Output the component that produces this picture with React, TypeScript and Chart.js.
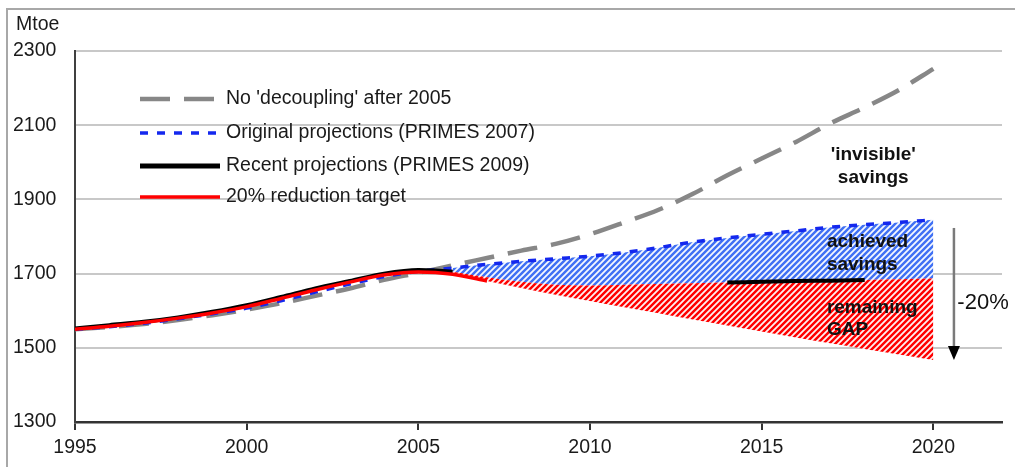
import React, { useEffect, useRef } from 'react';
import { Chart, registerables } from 'chart.js';

Chart.register(...registerables);

// ---- data ----
const years = [1995, 1996, 1997, 1998, 1999, 2000, 2001, 2002, 2003, 2004, 2005, 2006, 2007, 2008, 2009, 2010, 2011, 2012, 2013, 2014, 2015, 2016, 2017, 2018, 2019, 2020];
const noDecoupling = [1550, 1556, 1564, 1575, 1588, 1603, 1620, 1640, 1660, 1683, 1702, 1722, 1742, 1762, 1780, 1806, 1838, 1872, 1915, 1965, 2010, 2055, 2105, 2148, 2195, 2252];
const primes2007 = [1550, 1557, 1566, 1578, 1592, 1607, 1627, 1650, 1672, 1692, 1706, 1715, 1725, 1733, 1740, 1747, 1757, 1770, 1785, 1796, 1806, 1815, 1825, 1832, 1838, 1845];
const primes2009 = [1552, 1561, 1570, 1582, 1597, 1615, 1637, 1660, 1680, 1700, 1710, 1705, 1690, 1678, 1670, 1668, 1670, 1672, 1674, 1676, 1678, 1680, 1681, 1683, 1685, 1687];
const target20 = [1550, 1558, 1568, 1580, 1594, 1611, 1633, 1656, 1677, 1696, 1704, 1698, 1680, 1661, 1643, 1626, 1609, 1593, 1576, 1560, 1544, 1528, 1512, 1497, 1482, 1467];
const seriesLabels = ["No 'decoupling' after 2005", 'Original projections (PRIMES 2007)', 'Recent projections (PRIMES 2009)', '20% reduction target'];
const xTickValues = [1995, 2000, 2005, 2010, 2015, 2020];
const yTickValues = [1300, 1500, 1700, 1900, 2100, 2300];
const projectionStart = 2006;

const FONT = "'Liberation Sans', Arial, sans-serif";

function pts(vals: number[]) {
  return years.map((yr, i) => ({ x: yr, y: vals[i] }));
}
function ptsFrom(vals: number[], start: number) {
  return years.map((yr, i) => ({ x: yr, y: vals[i] })).filter((p) => p.x >= start);
}

function makePattern(base: string): CanvasPattern | string {
  const s = 6;
  const c = document.createElement('canvas');
  c.width = s;
  c.height = s;
  const g = c.getContext('2d');
  if (!g) return base;
  g.fillStyle = base;
  g.fillRect(0, 0, s, s);
  g.strokeStyle = 'rgba(255,255,255,0.95)';
  g.lineWidth = 1.8;
  g.beginPath();
  g.moveTo(0, s);
  g.lineTo(s, 0);
  g.moveTo(-1, 1);
  g.lineTo(1, -1);
  g.moveTo(s - 1, s + 1);
  g.lineTo(s + 1, s - 1);
  g.stroke();
  const p = g.createPattern(c, 'repeat');
  return p || base;
}

const overlayPlugin = {
  id: 'overlay',
  beforeDraw(chart: any) {
    const ctx = chart.ctx;
    ctx.save();
    ctx.fillStyle = '#ffffff';
    ctx.fillRect(0, 0, chart.width, chart.height);
    ctx.restore();
  },
  afterDatasetsDraw(chart: any) {
    const ctx = chart.ctx;
    const xs = chart.scales.x;
    const ys = chart.scales.y;
    ctx.save();

    // legend
    const rows = [99, 133, 166, 197];
    const lineX0 = 140;
    const lineX1 = 220;
    const textX = 226;
    const legendWidths = [4.5, 3.5, 5, 3.5];
    for (let i = 0; i < 4; i++) {
      const ds = chart.data.datasets[i];
      const y = rows[i];
      ctx.save();
      ctx.strokeStyle = ds.borderColor;
      ctx.lineWidth = legendWidths[i];
      ctx.setLineDash(ds.borderDash || []);
      ctx.beginPath();
      ctx.moveTo(lineX0, y);
      ctx.lineTo(lineX1, y);
      ctx.stroke();
      ctx.restore();
      ctx.fillStyle = '#1a1a1a';
      ctx.font = `19.5px ${FONT}`;
      ctx.textAlign = 'left';
      ctx.textBaseline = 'middle';
      ctx.fillText(ds.label, textX, y);
    }

    // annotations
    ctx.fillStyle = '#111111';
    ctx.font = `bold 19px ${FONT}`;
    ctx.textBaseline = 'middle';
    ctx.textAlign = 'center';
    const cx = xs.getPixelForValue(2018.25);
    ctx.fillText("'invisible'", cx, ys.getPixelForValue(2020));
    ctx.fillText('savings', cx, ys.getPixelForValue(1958));
    ctx.textAlign = 'left';
    const lx = xs.getPixelForValue(2016.9);
    ctx.fillText('achieved', lx, ys.getPixelForValue(1785));
    ctx.fillText('savings', lx, ys.getPixelForValue(1723));
    ctx.fillText('remaining', lx, ys.getPixelForValue(1607));
    ctx.fillText('GAP', lx, ys.getPixelForValue(1548));

    ctx.font = `22px ${FONT}`;
    ctx.fillText('-20%', xs.getPixelForValue(2020.7), ys.getPixelForValue(1621));

    // arrow
    const ax = xs.getPixelForValue(2020.6);
    const aTop = ys.getPixelForValue(1823);
    const aTip = ys.getPixelForValue(target20[target20.length - 1]);
    ctx.strokeStyle = '#7a7a7a';
    ctx.lineWidth = 2.5;
    ctx.beginPath();
    ctx.moveTo(ax, aTop);
    ctx.lineTo(ax, aTip - 12);
    ctx.stroke();
    ctx.fillStyle = '#000000';
    ctx.beginPath();
    ctx.moveTo(ax - 6, aTip - 14);
    ctx.lineTo(ax + 6, aTip - 14);
    ctx.lineTo(ax, aTip);
    ctx.closePath();
    ctx.fill();

    // unit label
    ctx.fillStyle = '#1a1a1a';
    ctx.font = `19.5px ${FONT}`;
    ctx.textAlign = 'left';
    ctx.textBaseline = 'middle';
    ctx.fillText('Mtoe', 16, 25);

    ctx.restore();
  },
  afterDraw(chart: any) {
    const ctx = chart.ctx;
    ctx.save();
    ctx.strokeStyle = '#a8a8a8';
    ctx.lineWidth = 2;
    ctx.beginPath();
    ctx.moveTo(7, chart.height);
    ctx.lineTo(7, 9);
    ctx.lineTo(chart.width, 9);
    ctx.stroke();
    ctx.restore();
  },
};

export default function App() {
  const ref = useRef<HTMLCanvasElement | null>(null);

  useEffect(() => {
    document.body.style.margin = '0';
    const canvas = ref.current;
    if (!canvas) return;
    const bluePattern = makePattern('#3f70f4');
    const redPattern = makePattern('#ff0000');
    const hideBlack = (ctx: any) => {
      const x0 = ctx.p0.parsed.x;
      if (x0 >= projectionStart && (x0 < 2014 || x0 >= 2018)) return 'rgba(0,0,0,0)';
      return undefined;
    };
    const hideRed = (ctx: any) => {
      const x0 = ctx.p0.parsed.x;
      if (x0 >= 2007) return 'rgba(0,0,0,0)';
      return undefined;
    };

    const chart = new Chart(canvas, {
      type: 'line',
      data: {
        datasets: [
          {
            label: seriesLabels[0],
            data: pts(noDecoupling),
            borderColor: '#878787',
            borderWidth: 4.5,
            borderDash: [30, 14],
            fill: false,
            order: 4,
          },
          {
            label: seriesLabels[1],
            data: pts(primes2007),
            borderColor: '#1428ee',
            borderWidth: 3.5,
            borderDash: [8, 9],
            fill: false,
            order: 3,
          },
          {
            label: seriesLabels[2],
            data: pts(primes2009),
            borderColor: '#000000',
            borderWidth: 4,
            fill: false,
            order: 2,
            segment: { borderColor: hideBlack },
          },
          {
            label: seriesLabels[3],
            data: pts(target20),
            borderColor: '#ff0000',
            borderWidth: 3.5,
            fill: false,
            order: 1,
            segment: { borderColor: hideRed },
          },
          {
            label: '',
            data: ptsFrom(primes2007, projectionStart),
            borderColor: 'rgba(0,0,0,0)',
            borderWidth: 0.01,
            backgroundColor: bluePattern as any,
            fill: 5,
            order: 7,
          },
          {
            label: '',
            data: ptsFrom(primes2009, projectionStart),
            borderColor: 'rgba(0,0,0,0)',
            borderWidth: 0.01,
            backgroundColor: redPattern as any,
            fill: 6,
            order: 6,
          },
          {
            label: '',
            data: ptsFrom(target20, projectionStart),
            borderColor: 'rgba(0,0,0,0)',
            borderWidth: 0.01,
            fill: false,
            order: 5,
          },
        ],
      },
      options: {
        responsive: false,
        animation: false,
        devicePixelRatio: 1,
        layout: { padding: { left: 13, right: 13, top: 51, bottom: 0 } },
        elements: {
          point: { radius: 0, hoverRadius: 0 },
          line: { cubicInterpolationMode: 'monotone' },
        },
        plugins: {
          legend: { display: false },
          tooltip: { enabled: false },
          title: { display: false },
        },
        scales: {
          x: {
            type: 'linear',
            min: 1995,
            max: 2022,
            afterBuildTicks: (scale: any) => {
              scale.ticks = xTickValues.map((v) => ({ value: v }));
            },
            afterFit: (scale: any) => {
              scale.height = 45;
            },
            grid: {
              drawOnChartArea: false,
              drawTicks: true,
              tickLength: 8,
              color: '#333333',
              lineWidth: 2,
            },
            border: { display: true, color: '#333333', width: 2.5 },
            ticks: {
              autoSkip: false,
              maxRotation: 0,
              padding: 6,
              color: '#1a1a1a',
              font: { family: FONT, size: 19.5 },
              callback: (v: any) => String(v),
            },
          },
          y: {
            type: 'linear',
            min: 1300,
            max: 2300,
            afterBuildTicks: (scale: any) => {
              scale.ticks = yTickValues.map((v) => ({ value: v }));
            },
            afterFit: (scale: any) => {
              scale.width = 62;
            },
            grid: {
              color: '#c8c8c8',
              lineWidth: 2,
              drawTicks: false,
            },
            border: { display: true, color: '#404040', width: 2 },
            ticks: {
              crossAlign: 'far',
              padding: 0,
              color: '#1a1a1a',
              font: { family: FONT, size: 19.5 },
              callback: (v: any) => String(v),
            },
          },
        },
      },
      plugins: [overlayPlugin],
    } as any);

    return () => {
      chart.destroy();
    };
  }, []);

  return (
    <div style={{ width: 1015, height: 467 }}>
      <canvas ref={ref} width={1015} height={467} style={{ display: 'block' }} />
    </div>
  );
}
